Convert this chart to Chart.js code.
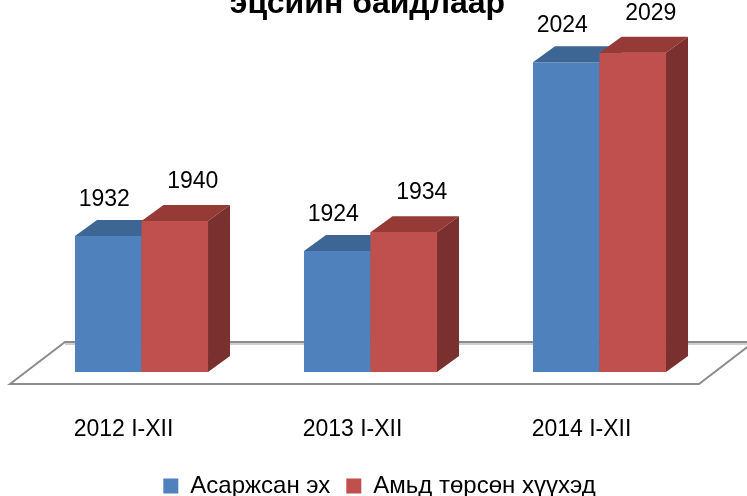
<!DOCTYPE html>
<html>
<head>
<meta charset="utf-8">
<script src="https://cdn.jsdelivr.net/npm/chart.js@4.4.1/dist/chart.umd.min.js"></script>
<style>
  html, body { margin: 0; padding: 0; background: #fff; overflow: hidden; }
  #wrap { position: relative; width: 747px; height: 496px; overflow: hidden; }
  #title {
    position: absolute; top: -14px; left: -6px; width: 747px;
    text-align: center; white-space: nowrap; color: #000;
    font: bold 32px/32px 'Liberation Sans', Arial, sans-serif;
  }
</style>
</head>
<body>
<div id="wrap">
  <canvas id="chart" width="747" height="496"></canvas>
  <div id="title">эцсийн байдлаар</div>
</div>
<script>
// data
const categories = ['2012 I-XII', '2013 I-XII', '2014 I-XII'];
const mothers = [1932, 1924, 2024];      // Асаржсан эх
const liveBirths = [1940, 1934, 2029];   // Амьд төрсөн хүүхэд
const seriesNames = ['Асаржсан эх', 'Амьд төрсөн хүүхэд'];
const yMin = 1860;
const yMax = 2040;

const FONT = "'Liberation Sans', Arial, sans-serif";

// fake 3D look: depth offset of the top / side faces
const DX = 22, DY = -16;
const faces = [
  { top: '#3d6695', side: '#2f5078', labelDx: -4, labelDy: 30 },
  { top: '#953a37', side: '#7a302e', labelDx: 18, labelDy: 33 }
];

function drawFaces(ctx, bar, f, bottom) {
  const { x, y, base, width } = bar.getProps(['x', 'y', 'base', 'width'], true);
  const b = Math.min(base, bottom);
  const l = x - width / 2, r = x + width / 2;
  ctx.fillStyle = f.top;
  ctx.beginPath();
  ctx.moveTo(l, y);
  ctx.lineTo(l + DX, y + DY);
  ctx.lineTo(r + DX, y + DY);
  ctx.lineTo(r, y);
  ctx.closePath();
  ctx.fill();
  ctx.fillStyle = f.side;
  ctx.beginPath();
  ctx.moveTo(r, y);
  ctx.lineTo(r + DX, y + DY);
  ctx.lineTo(r + DX, b + DY);
  ctx.lineTo(r, b);
  ctx.closePath();
  ctx.fill();
}

const bars3d = {
  id: 'bars3d',
  beforeDatasetsDraw(chart) {
    // floor plate
    const { ctx, chartArea: { left, right, bottom } } = chart;
    ctx.save();
    ctx.beginPath();
    ctx.moveTo(left - 17, bottom + 12);
    ctx.lineTo(right - 15, bottom + 12);
    ctx.lineTo(right + 40, bottom - 30);
    ctx.lineTo(left + 38, bottom - 30);
    ctx.closePath();
    ctx.fillStyle = '#fff';
    ctx.fill();
    ctx.strokeStyle = '#8c8c8c';
    ctx.lineWidth = 2;
    ctx.stroke();
    ctx.strokeStyle = '#cfcfcf';
    ctx.beginPath();
    ctx.moveTo(left + 38, bottom - 28);
    ctx.lineTo(right + 40, bottom - 28);
    ctx.stroke();
    ctx.restore();
  },
  afterDatasetsDraw(chart) {
    const ctx = chart.ctx;
    const area = chart.chartArea;
    const blue = chart.getDatasetMeta(0).data;
    const red = chart.getDatasetMeta(1).data;
    ctx.save();
    blue.forEach((bar, j) => {
      drawFaces(ctx, bar, faces[0], area.bottom);
      // red front again so it covers the blue side face
      ctx.save();
      ctx.beginPath();
      ctx.rect(area.left, area.top, area.right - area.left, area.bottom - area.top);
      ctx.clip();
      red[j].draw(ctx);
      ctx.restore();
      drawFaces(ctx, red[j], faces[1], area.bottom);
    });

    // value labels
    ctx.font = '23px ' + FONT;
    ctx.fillStyle = '#000';
    ctx.textAlign = 'center';
    ctx.textBaseline = 'alphabetic';
    chart.data.datasets.forEach((ds, i) => {
      const f = faces[i];
      chart.getDatasetMeta(i).data.forEach((bar, j) => {
        const { x, y } = bar.getProps(['x', 'y'], true);
        ctx.fillText(String(ds.data[j]), x + f.labelDx, y - f.labelDy);
      });
    });
    ctx.restore();
  }
};

// invisible axes, only used to reserve room left/right of the plot
const spacer = w => ({
  display: true,
  grid: { display: false, drawTicks: false },
  border: { display: false },
  ticks: { display: false },
  afterFit(scale) { scale.width = w; }
});

new Chart(document.getElementById('chart'), {
  type: 'bar',
  data: {
    labels: categories,
    datasets: [
      { label: seriesNames[0], data: mothers, backgroundColor: '#4f81bd', borderWidth: 0 },
      { label: seriesNames[1], data: liveBirths, backgroundColor: '#c0504d', borderWidth: 0 }
    ]
  },
  options: {
    responsive: false,
    animation: false,
    devicePixelRatio: 1,
    layout: { padding: { left: 12, right: 0, top: 32, bottom: -12 } },
    datasets: { bar: { barPercentage: 1, categoryPercentage: 0.581 } },
    scales: {
      x: {
        grid: { display: false, drawTicks: false },
        border: { display: false },
        ticks: { font: { family: FONT, size: 23 }, color: '#000', padding: 44, labelOffset: -18 },
        afterFit(scale) { scale.height = 86; }
      },
      y: Object.assign(spacer(15), { position: 'left', min: yMin, max: yMax }),
      yr: Object.assign(spacer(33), { position: 'right' })
    },
    plugins: {
      tooltip: { enabled: false },
      legend: {
        position: 'bottom',
        labels: {
          boxWidth: 15, boxHeight: 15, padding: 16,
          font: { family: FONT, size: 24 }, color: '#000'
        }
      }
    }
  },
  plugins: [bars3d]
});
</script>
</body>
</html>
